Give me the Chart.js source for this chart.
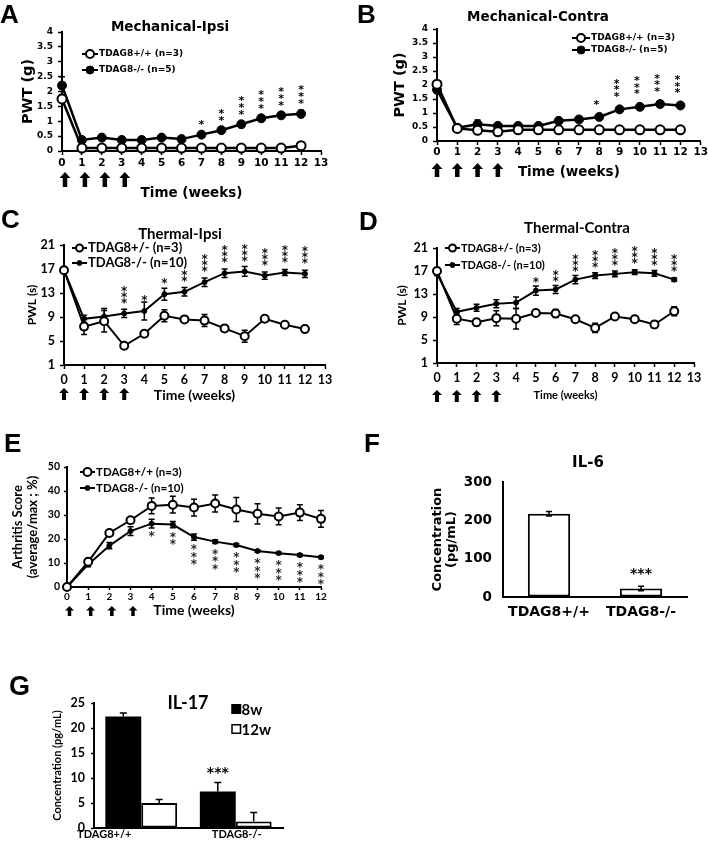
<!DOCTYPE html>
<html>
<head>
<meta charset="utf-8">
<script src="https://cdn.jsdelivr.net/npm/chart.js@4.4.0/dist/chart.umd.min.js"></script>
<style>
  body { margin: 0; background: #fff; }
  #fig { position: relative; width: 709px; height: 848px; }
  #fig canvas { position: absolute; left: 0; top: 0; }
</style>
</head>
<body>
<div id="fig">
  <canvas id="chartA" width="709" height="848"></canvas>
  <canvas id="chartB" width="709" height="848"></canvas>
  <canvas id="chartC" width="709" height="848"></canvas>
  <canvas id="chartD" width="709" height="848"></canvas>
  <canvas id="chartE" width="709" height="848"></canvas>
  <canvas id="chartF" width="709" height="848"></canvas>
  <canvas id="chartG" width="709" height="848"></canvas>
</div>
<script>
// ---- data ----
const weeks = [0, 1, 2, 3, 4, 5, 6, 7, 8, 9, 10, 11, 12];
const injectionWeeks = [0, 1, 2, 3];

// A: Mechanical-Ipsi
const mechIpsiWT     = [1.75, 0.1, 0.1, 0.1, 0.1, 0.1, 0.1, 0.1, 0.1, 0.1, 0.1, 0.1, 0.18];
const mechIpsiWTErr  = [0.1, 0.02, 0.02, 0.02, 0.02, 0.02, 0.02, 0.02, 0.02, 0.02, 0.02, 0.02, 0.05];
const mechIpsiKO     = [2.2, 0.37, 0.45, 0.37, 0.37, 0.45, 0.4, 0.55, 0.7, 0.9, 1.1, 1.2, 1.25];
const mechIpsiKOErr  = [0.3, 0.05, 0.05, 0.04, 0.04, 0.05, 0.04, 0.06, 0.05, 0.06, 0.06, 0.06, 0.12];
const mechIpsiStars  = [0, 0, 0, 0, 0, 0, 0, 1, 2, 3, 3, 3, 3];

// B: Mechanical-Contra
const mechContraWT    = [2.03, 0.45, 0.38, 0.33, 0.4, 0.4, 0.4, 0.4, 0.4, 0.4, 0.4, 0.4, 0.4];
const mechContraWTErr = [0.05, 0.03, 0.08, 0.03, 0.03, 0.03, 0.03, 0.03, 0.03, 0.03, 0.03, 0.03, 0.03];
const mechContraKO    = [1.83, 0.47, 0.6, 0.54, 0.54, 0.54, 0.72, 0.77, 0.86, 1.13, 1.22, 1.32, 1.27];
const mechContraKOErr = [0.1, 0.04, 0.15, 0.05, 0.05, 0.05, 0.05, 0.05, 0.05, 0.06, 0.06, 0.06, 0.06];
const mechContraStars = [0, 0, 0, 0, 0, 0, 0, 0, 1, 3, 3, 3, 3];

// C: Thermal-Ipsi
const thermIpsiWT     = [16.8, 7.4, 8.3, 4.2, 6.2, 9.2, 8.6, 8.4, 7.1, 5.8, 8.7, 7.7, 7.0];
const thermIpsiWTErr  = [0.3, 1.3, 1.8, 0.4, 0.3, 1.0, 0.4, 1.0, 0.3, 1.0, 0.3, 0.4, 0.6];
const thermIpsiKO     = [16.8, 8.7, 9.1, 9.6, 10.0, 12.8, 13.2, 14.8, 16.3, 16.6, 15.9, 16.4, 16.2];
const thermIpsiKOErr  = [0.3, 0.6, 1.3, 0.7, 1.5, 1.0, 0.7, 0.7, 0.7, 0.8, 0.6, 0.5, 0.6];
const thermIpsiStars  = [0, 0, 0, 3, 1, 1, 2, 3, 3, 3, 3, 3, 3];

// D: Thermal-Contra
const thermContraWT    = [17.0, 8.7, 8.1, 8.8, 8.7, 9.7, 9.6, 8.6, 7.1, 9.1, 8.6, 7.7, 10.0];
const thermContraWTErr = [0.3, 1.0, 0.6, 1.3, 1.8, 0.4, 0.7, 0.4, 0.8, 0.5, 0.4, 0.6, 0.8];
const thermContraKO    = [16.5, 9.9, 10.6, 11.3, 11.5, 13.6, 13.8, 15.5, 16.2, 16.5, 16.8, 16.6, 15.5];
const thermContraKOErr = [0.3, 0.6, 0.6, 0.7, 1.0, 0.8, 0.7, 0.7, 0.5, 0.5, 0.4, 0.5, 0.3];
const thermContraStars = [0, 0, 0, 0, 0, 1, 2, 3, 3, 3, 3, 3, 3];

// E: Arthritis score
const arthritisWT     = [0, 10.5, 22.5, 27.8, 33.8, 34.3, 33.1, 34.8, 32.3, 30.5, 29.4, 31.0, 28.4];
const arthritisWTErr  = [0, 1.0, 1.2, 1.0, 3.3, 3.5, 3.5, 3.5, 5.0, 4.2, 3.5, 3.3, 3.5];
const arthritisKO     = [0, 9.4, 17.2, 23.3, 26.4, 26.0, 20.8, 18.9, 17.5, 15.0, 14.1, 13.3, 12.4];
const arthritisKOErr  = [0, 1.0, 1.3, 1.8, 1.8, 1.3, 1.3, 0.8, 0.6, 0.5, 0.5, 0.6, 0.5];
const arthritisStars  = [0, 0, 0, 0, 1, 2, 3, 3, 3, 3, 3, 3, 3];

// F: IL-6
const il6Groups = ['TDAG8+/+', 'TDAG8-/-'];
const il6Values = [217, 22];
const il6Err    = [6, 6];

// G: IL-17
const il17Groups    = ['TDAG8+/+', 'TDAG8-/-'];
const il17Week8     = [22.3, 7.3];
const il17Week8Err  = [0.7, 1.8];
const il17Week12    = [5.0, 1.3];
const il17Week12Err = [0.7, 1.8];

// ---- styling helpers ----
const FA = '"DejaVu Sans", Verdana, sans-serif';
const FC = 'Lato, "Open Sans", sans-serif';
const LETTER = '"Liberation Sans", Arial, sans-serif';
const W = 709, H = 848;

function bold(family, size, lh) {
  return { family: family, size: size, weight: 'bold', lineHeight: lh || 1.2 };
}

// chart area L,T,R,B in page pixels; yLeft = left edge of y title, xBottom = bottom of x title
function frame(L, T, R, B, yLeft, xBottom) {
  return {
    pad: { left: yLeft, top: T, right: W - R, bottom: H - xBottom },
    yw: L - yLeft,
    xh: xBottom - B
  };
}

function decor(d) {
  function drawErrors(chart) {
    const ctx = chart.ctx;
    const ys = chart.scales.y;
    d.errors.forEach(function (errs, di) {
      const meta = chart.getDatasetMeta(di);
      const vals = chart.data.datasets[di].data;
      ctx.save();
      ctx.strokeStyle = '#000';
      ctx.lineWidth = d.errWidth || 1.5;
      meta.data.forEach(function (el, j) {
        const e = errs[j];
        if (!e) return;
        const v = typeof vals[j] === 'object' ? vals[j].y : vals[j];
        const top = ys.getPixelForValue(v + e);
        const bot = ys.getPixelForValue(d.upOnly ? v : v - e);
        ctx.beginPath();
        ctx.moveTo(el.x, top); ctx.lineTo(el.x, bot);
        ctx.moveTo(el.x - d.cap, top); ctx.lineTo(el.x + d.cap, top);
        if (!d.upOnly) { ctx.moveTo(el.x - d.cap, bot); ctx.lineTo(el.x + d.cap, bot); }
        ctx.stroke();
      });
      ctx.restore();
    });
  }
  return {
    id: 'decor',
    beforeDatasetsDraw(chart) {
      if (d.errors && !d.errAfter) drawErrors(chart);
    },
    afterDraw(chart) {
      const ctx = chart.ctx;
      if (d.errors && d.errAfter) drawErrors(chart);
      ctx.save();

      // significance stars stacked above / below points
      if (d.stars) {
        const s = d.stars;
        const meta = chart.getDatasetMeta(s.dataset);
        ctx.font = 'bold ' + s.size + 'px ' + FA;
        ctx.textAlign = 'center';
        ctx.textBaseline = 'alphabetic';
        ctx.fillStyle = s.color || '#000';
        s.counts.forEach(function (n, j) {
          const el = meta.data[j];
          for (let k = 0; k < n; k++) {
            const cy = s.below ? el.y + s.gap + k * s.step : el.y - s.gap - k * s.step;
            ctx.fillText('*', el.x + (s.dx || 0), cy + s.size * 0.6);
          }
        });
      }

      // stars over a single bar
      if (d.barStars) {
        const b = d.barStars;
        const el = chart.getDatasetMeta(b.dataset).data[b.index];
        const v = chart.data.datasets[b.dataset].data[b.index];
        const yTop = chart.scales.y.getPixelForValue(v + b.err);
        ctx.font = 'bold ' + b.size + 'px ' + FA;
        ctx.textAlign = 'center';
        ctx.textBaseline = 'alphabetic';
        ctx.fillStyle = '#000';
        ctx.fillText('***', el.x, yTop - b.gap + b.size * 0.6);
      }

      // injection arrows under the time axis
      if (d.arrows) {
        const a = d.arrows;
        const xs = chart.scales.x;
        ctx.fillStyle = '#000';
        injectionWeeks.forEach(function (w) {
          const x = xs.getPixelForValue(w) + a.dx;
          ctx.beginPath();
          ctx.moveTo(x, a.top);
          ctx.lineTo(x + a.head / 2, a.top + a.headH);
          ctx.lineTo(x + a.shaft / 2, a.top + a.headH);
          ctx.lineTo(x + a.shaft / 2, a.top + a.h);
          ctx.lineTo(x - a.shaft / 2, a.top + a.h);
          ctx.lineTo(x - a.shaft / 2, a.top + a.headH);
          ctx.lineTo(x - a.head / 2, a.top + a.headH);
          ctx.closePath();
          ctx.fill();
        });
      }

      // line legend (line through marker)
      if (d.legend) {
        const g = d.legend;
        ctx.textAlign = 'left';
        ctx.textBaseline = 'middle';
        chart.data.datasets.forEach(function (ds, i) {
          const y = g.ys[i];
          ctx.strokeStyle = '#000';
          ctx.lineWidth = 2;
          ctx.beginPath(); ctx.moveTo(g.x, y); ctx.lineTo(g.x + g.w, y); ctx.stroke();
          ctx.beginPath();
          ctx.arc(g.x + g.w / 2, y, g.r[i], 0, Math.PI * 2);
          ctx.fillStyle = ds.pointBackgroundColor;
          ctx.fill();
          ctx.lineWidth = ds.pointBorderWidth;
          ctx.stroke();
          ctx.fillStyle = '#000';
          ctx.font = 'bold ' + g.size + 'px ' + g.family;
          ctx.fillText(ds.label, g.x + g.w + 1, y);
        });
      }

      // box legend for bars
      if (d.boxLegend) {
        const g = d.boxLegend;
        ctx.textAlign = 'left';
        ctx.textBaseline = 'middle';
        chart.data.datasets.forEach(function (ds, i) {
          const y = g.ys[i];
          ctx.fillStyle = ds.backgroundColor;
          ctx.fillRect(g.x, y - g.box / 2, g.box, g.box);
          ctx.strokeStyle = '#000';
          ctx.lineWidth = 1.5;
          ctx.strokeRect(g.x, y - g.box / 2, g.box, g.box);
          ctx.fillStyle = '#000';
          ctx.font = 'bold ' + g.size + 'px ' + g.family;
          ctx.fillText(ds.label, g.x + g.box + 1, y + 1);
        });
      }

      // category labels placed by hand (panel G)
      if (d.catLabels) {
        const c = d.catLabels;
        const xs = chart.scales.x;
        ctx.font = 'bold ' + c.size + 'px ' + c.family;
        ctx.textAlign = 'center';
        ctx.textBaseline = 'middle';
        ctx.fillStyle = '#000';
        chart.data.labels.forEach(function (lab, i) {
          ctx.fillText(lab, xs.getPixelForValue(i) + c.dx[i], c.y);
        });
      }

      // panel letter and title
      (d.texts || []).forEach(function (t) {
        ctx.font = 'bold ' + t.size + 'px ' + t.family;
        ctx.textAlign = t.align || 'center';
        ctx.textBaseline = t.baseline || 'middle';
        ctx.fillStyle = '#000';
        ctx.fillText(t.text, t.x, t.y);
      });
      ctx.restore();
    }
  };
}

function axisBase() {
  return {
    grid: { drawOnChartArea: false, tickLength: 4, tickWidth: 1.5, tickColor: '#000' },
    border: { color: '#000', width: 2 }
  };
}

function linePanel(id, p) {
  const f = p.frame;
  function set(vals, label, filled, r) {
    return {
      label: label,
      data: weeks.map(function (w, i) { return { x: w, y: vals[i] }; }),
      borderColor: '#000', borderWidth: p.lineW, tension: 0, clip: false,
      pointRadius: r, pointBorderWidth: filled ? 1 : 2, pointBorderColor: '#000',
      pointBackgroundColor: filled ? '#000' : '#fff'
    };
  }
  const xAxis = axisBase();
  xAxis.grid.tickLength = p.xTick[0];
  Object.assign(xAxis, {
    type: 'linear', min: 0, max: p.xMax,
    ticks: { stepSize: 1, autoSkip: false, maxRotation: 0, color: '#000', padding: p.xTick[1], font: p.xTickFont },
    title: { display: true, text: 'Time (weeks)', color: '#000', padding: 0, font: p.xTitleFont },
    afterFit: function (s) { s.height = f.xh; }
  });
  const yAxis = axisBase();
  yAxis.grid.tickLength = p.yTick[0];
  Object.assign(yAxis, {
    min: p.yMin, max: p.yMax,
    ticks: { stepSize: p.yStep, autoSkip: false, color: '#000', padding: p.yTick[1], font: p.yTickFont,
             callback: function (v) { return String(v); } },
    title: { display: true, text: p.yTitle, color: '#000', padding: 0, font: p.yTitleFont },
    afterFit: function (s) { s.width = f.yw; }
  });
  return new Chart(document.getElementById(id), {
    type: 'line',
    data: { datasets: [set(p.wt, p.labels[0], false, p.r[0]), set(p.ko, p.labels[1], true, p.r[1])] },
    options: {
      responsive: false, animation: false, events: [],
      layout: { padding: f.pad },
      plugins: { legend: { display: false }, tooltip: { enabled: false } },
      scales: { x: xAxis, y: yAxis }
    },
    plugins: [decor(p.decor)]
  });
}

// ---- A ----
linePanel('chartA', {
  frame: frame(62, 32, 321, 151, 19.3, 201.1),
  wt: mechIpsiWT, ko: mechIpsiKO, labels: ['TDAG8+/+ (n=3)', 'TDAG8-/- (n=5)'],
  r: [4.5, 4.5], lineW: 2.5, xMax: 13, yMin: 0, yMax: 4, yStep: 0.5,
  xTick: [4, 2], yTick: [4, 5],
  xTickFont: bold(FA, 10.5), yTickFont: bold(FA, 9),
  xTitleFont: bold(FA, 13.5), yTitle: 'PWT (g)', yTitleFont: bold(FA, 14.5),
  decor: {
    errors: [mechIpsiWTErr, mechIpsiKOErr], cap: 3,
    stars: { dataset: 1, counts: mechIpsiStars, size: 11, gap: 13, step: 7 },
    arrows: { dx: 3, top: 172, h: 15, head: 11, headH: 6, shaft: 4.5 },
    legend: { x: 82, ys: [54, 70], w: 16, r: [4, 4], size: 9, family: FA },
    texts: [
      { text: 'A', x: 0, y: 23, size: 26, family: LETTER, align: 'left', baseline: 'alphabetic' },
      { text: 'Mechanical-Ipsi', x: 170, y: 27, size: 13.5, family: FA }
    ]
  }
});

// ---- B ----
linePanel('chartB', {
  frame: frame(437, 29, 704, 141, 391.3, 180.1),
  wt: mechContraWT, ko: mechContraKO, labels: ['TDAG8+/+ (n=3)', 'TDAG8-/- (n=5)'],
  r: [4.5, 4.5], lineW: 2.5, xMax: 13, yMin: 0, yMax: 4, yStep: 0.5,
  xTick: [4, 1], yTick: [4, 5],
  xTickFont: bold(FA, 10.5), yTickFont: bold(FA, 9),
  xTitleFont: bold(FA, 13.5), yTitle: 'PWT (g)', yTitleFont: bold(FA, 14.5),
  decor: {
    errors: [mechContraWTErr, mechContraKOErr], cap: 3,
    stars: { dataset: 1, counts: mechContraStars, size: 11, gap: 16, step: 6.5, dx: -3 },
    arrows: { dx: 0, top: 163, h: 14, head: 11, headH: 6, shaft: 4.5 },
    legend: { x: 572, ys: [38, 50], w: 18, r: [4, 4], size: 9, family: FA },
    texts: [
      { text: 'B', x: 357, y: 23, size: 26, family: LETTER, align: 'left', baseline: 'alphabetic' },
      { text: 'Mechanical-Contra', x: 538, y: 17, size: 13.5, family: FA }
    ]
  }
});

// ---- C ----
linePanel('chartC', {
  frame: frame(64, 245, 325, 365, 24.8, 403.4),
  wt: thermIpsiWT, ko: thermIpsiKO, labels: ['TDAG8+/- (n=3)', 'TDAG8-/- (n=10)'],
  r: [4, 2.5], lineW: 2, xMax: 13, yMin: 1, yMax: 21, yStep: 4,
  xTick: [4, 3.5], yTick: [4, 5],
  xTickFont: bold(FC, 12.5), yTickFont: bold(FC, 12.5),
  xTitleFont: bold(FC, 14), yTitle: 'PWL (s)', yTitleFont: bold(FC, 12),
  decor: {
    errors: [thermIpsiWTErr, thermIpsiKOErr], cap: 3,
    stars: { dataset: 1, counts: thermIpsiStars, size: 12, gap: 14, step: 6, color: '#111' },
    arrows: { dx: 0, top: 388, h: 12, head: 10, headH: 5, shaft: 4 },
    legend: { x: 72, ys: [248, 263], w: 15, r: [3.5, 2.5], size: 13, family: FC },
    texts: [
      { text: 'C', x: 1, y: 228, size: 26, family: LETTER, align: 'left', baseline: 'alphabetic' },
      { text: 'Thermal-Ipsi', x: 180, y: 234, size: 15, family: FC }
    ]
  }
});

// ---- D ----
linePanel('chartD', {
  frame: frame(437, 248, 694, 363, 394.8, 401.6),
  wt: thermContraWT, ko: thermContraKO, labels: ['TDAG8+/- (n=3)', 'TDAG8-/- (n=10)'],
  r: [4, 2.5], lineW: 2, xMax: 13, yMin: 1, yMax: 21, yStep: 4,
  xTick: [4, 3.5], yTick: [4, 5],
  xTickFont: bold(FC, 12.5), yTickFont: bold(FC, 12.5),
  xTitleFont: bold(FC, 11), yTitle: 'PWL (s)', yTitleFont: bold(FC, 12),
  decor: {
    errors: [thermContraWTErr, thermContraKOErr], cap: 3,
    stars: { dataset: 1, counts: thermContraStars, size: 12, gap: 12, step: 6, color: '#111' },
    arrows: { dx: 0, top: 390, h: 12, head: 10, headH: 5, shaft: 4 },
    legend: { x: 445, ys: [248, 265], w: 15, r: [3.5, 2.5], size: 11, family: FC },
    texts: [
      { text: 'D', x: 359, y: 230, size: 26, family: LETTER, align: 'left', baseline: 'alphabetic' },
      { text: 'Thermal-Contra', x: 577, y: 228, size: 15, family: FC }
    ]
  }
});

// ---- E ----
linePanel('chartE', {
  frame: frame(67, 467, 321, 587, 10.5, 618.4),
  wt: arthritisWT, ko: arthritisKO, labels: ['TDAG8+/+ (n=3)', 'TDAG8-/- (n=10)'],
  r: [4, 2.5], lineW: 2, xMax: 12, yMin: 0, yMax: 50, yStep: 10,
  xTick: [3, 1], yTick: [3, 4],
  xTickFont: bold(FC, 10), yTickFont: bold(FC, 10.5),
  xTitleFont: bold(FC, 14), yTitle: ['Arthritis Score', '(average/max ; %)'], yTitleFont: bold(FC, 13, 15 / 13),
  decor: {
    errors: [arthritisWTErr, arthritisKOErr], cap: 3,
    stars: { dataset: 1, counts: arthritisStars, size: 12, gap: 9, step: 7.5, below: true, color: '#2a2a2a' },
    arrows: { dx: 2.5, top: 606, h: 10, head: 9, headH: 4.5, shaft: 3.5 },
    legend: { x: 80, ys: [472, 488], w: 15, r: [4, 2.5], size: 11.5, family: FC },
    texts: [
      { text: 'E', x: 4, y: 452, size: 26, family: LETTER, align: 'left', baseline: 'alphabetic' }
    ]
  }
});

// ---- F ----
(function () {
  const f = frame(503, 482, 687, 597, 431, 627);
  const xAxis = axisBase();
  xAxis.grid.drawTicks = false;
  Object.assign(xAxis, {
    ticks: { color: '#000', padding: 6.6, font: bold(FA, 14), maxRotation: 0 },
    afterFit: function (s) { s.height = f.xh; }
  });
  const yAxis = axisBase();
  yAxis.grid.drawTicks = false;
  Object.assign(yAxis, {
    min: 0, max: 300,
    ticks: { stepSize: 100, color: '#000', padding: 11, font: bold(FA, 13.5) },
    title: { display: true, text: ['Concentration', '(pg/mL)'], color: '#000', padding: 0, font: bold(FA, 13, 14 / 13) },
    afterFit: function (s) { s.width = f.yw; }
  });
  new Chart(document.getElementById('chartF'), {
    type: 'bar',
    data: {
      labels: il6Groups,
      datasets: [{ label: 'IL-6', data: il6Values, backgroundColor: '#fff', borderColor: '#000',
                   borderWidth: 2, borderSkipped: false, barPercentage: 0.46, categoryPercentage: 1 }]
    },
    options: {
      responsive: false, animation: false, events: [],
      layout: { padding: f.pad },
      plugins: { legend: { display: false }, tooltip: { enabled: false } },
      scales: { x: xAxis, y: yAxis }
    },
    plugins: [decor({
      errors: [il6Err], cap: 3, errAfter: true,
      barStars: { dataset: 0, index: 1, err: 6, gap: 17, size: 14 },
      texts: [
        { text: 'F', x: 364, y: 452, size: 26, family: LETTER, align: 'left', baseline: 'alphabetic' },
        { text: 'IL-6', x: 588, y: 463, size: 15, family: FA }
      ]
    })]
  });
})();

// ---- G ----
(function () {
  const f = frame(94, 703, 283, 828, 50.4, 843);
  const xAxis = axisBase();
  xAxis.grid.drawTicks = false;
  Object.assign(xAxis, {
    ticks: { display: false },
    afterFit: function (s) { s.height = f.xh; }
  });
  const yAxis = axisBase();
  yAxis.grid.tickLength = 3;
  Object.assign(yAxis, {
    min: 0, max: 25,
    ticks: { stepSize: 5, color: '#000', padding: 6, font: bold(FC, 12.5) },
    title: { display: true, text: 'Concentration (pg/mL)', color: '#000', padding: 0, font: bold(FC, 11) },
    afterFit: function (s) { s.width = f.yw; }
  });
  new Chart(document.getElementById('chartG'), {
    type: 'bar',
    data: {
      labels: il17Groups,
      datasets: [
        { label: '8w', data: il17Week8, backgroundColor: '#000', borderColor: '#000', borderWidth: 0,
          barPercentage: 1, categoryPercentage: 0.76 },
        { label: '12w', data: il17Week12, backgroundColor: '#fff', borderColor: '#000', borderWidth: 2,
          borderSkipped: false, barPercentage: 1, categoryPercentage: 0.76 }
      ]
    },
    options: {
      responsive: false, animation: false, events: [],
      layout: { padding: f.pad },
      plugins: { legend: { display: false }, tooltip: { enabled: false } },
      scales: { x: xAxis, y: yAxis }
    },
    plugins: [decor({
      errors: [il17Week8Err, il17Week12Err], cap: 3.5, upOnly: true, errAfter: true,
      barStars: { dataset: 0, index: 1, err: 1.8, gap: 14, size: 14 },
      boxLegend: { x: 232, ys: [709, 729], box: 8.5, size: 15, family: FC },
      catLabels: { dx: [-37, 1], y: 834, size: 11, family: FC },
      texts: [
        { text: 'G', x: 9, y: 695, size: 27, family: LETTER, align: 'left', baseline: 'alphabetic' },
        { text: 'IL-17', x: 188, y: 703, size: 18, family: FC }
      ]
    })]
  });
})();
</script>
</body>
</html>
